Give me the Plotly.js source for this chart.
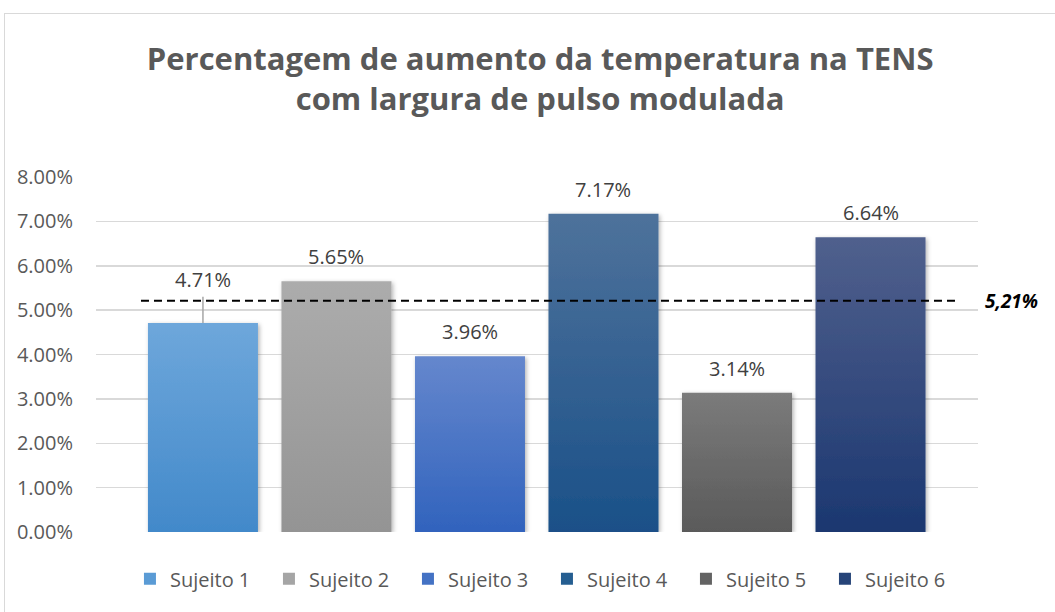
<!DOCTYPE html>
<html>
<head>
<meta charset="utf-8">
<script src="https://cdn.plot.ly/plotly-3.0.1.min.js"></script>
<style>
  html, body { margin: 0; padding: 0; background: #ffffff; }
  #wrap { position: relative; width: 1055px; height: 612px; }
  #chart { width: 1055px; height: 612px; }
  #frame {
    position: absolute; left: 4px; top: 13px; right: 0; bottom: 0;
    border-top: 1.5px solid #d9d9d9; border-left: 1.5px solid #d9d9d9;
    pointer-events: none;
  }
</style>
</head>
<body>
<div id="wrap">
  <div id="chart"></div>
  <div id="frame"></div>
</div>
<script>
// Temperature increase (%) per subject
const subjects = ["Sujeito 1", "Sujeito 2", "Sujeito 3", "Sujeito 4", "Sujeito 5", "Sujeito 6"];
const increase = [4.71, 5.65, 3.96, 7.17, 3.14, 6.64];
const yTicks = [0, 1, 2, 3, 4, 5, 6, 7, 8];

// Vertical gradient per bar: [top, bottom], plus a solid swatch colour for the legend
const gradTop    = ["#6ea7db", "#acacac", "#6587cd", "#4e729b", "#7b7b7b", "#50608d"];
const gradBottom = ["#4289ca", "#949494", "#3163bd", "#1a5088", "#5a5a5a", "#1b3770"];
const swatch     = ["#5a9bd5", "#a5a5a5", "#4472c4", "#255e91", "#636363", "#264478"];

const mean = increase.reduce((a, b) => a + b, 0) / increase.length;

const plotTop = 177, plotBottom = 532;
const yMax = 8;
const pxPerUnit = (plotBottom - plotTop) / yMax;
const font = "Open Sans, sans-serif";

const traces = subjects.map((name, i) => ({
  type: "bar",
  name: name,
  x: [i],
  y: [increase[i]],
  width: 0.824,
  marker: { color: swatch[i], line: { width: 0 } },
  hoverinfo: "name+y"
}));

// Data labels; a label that would sit on the mean line is lifted above it with a leader line
const annotations = [];
const shapes = [];
const baseShift = 9, labelH = 26;
increase.forEach((v, i) => {
  const gapPx = (mean - v) * pxPerUnit;
  let shift = baseShift;
  const collides = gapPx > 0 && baseShift < gapPx + 4 && baseShift + labelH > gapPx - 4;
  if (collides) {
    shift = gapPx + 6;
    shapes.push({
      type: "line", xref: "x", yref: "y",
      x0: i, x1: i, ysizemode: "pixel", yanchor: v, y0: 0, y1: gapPx + 4,
      line: { color: "#a6a6a6", width: 1.5 }
    });
  }
  annotations.push({
    x: i, y: v, xref: "x", yref: "y",
    text: v.toFixed(2) + "%",
    showarrow: false, yanchor: "bottom", yshift: shift,
    font: { family: font, size: 20, color: "#404040" }
  });
});

// Mean line and its label
shapes.push({
  type: "line", xref: "paper", yref: "y",
  x0: 0.051, x1: 0.977, y0: mean, y1: mean,
  line: { color: "#000000", width: 2, dash: "8px,5px" }
});
annotations.push({
  xref: "paper", yref: "y", x: 1.006, y: mean,
  xanchor: "left", yanchor: "middle", showarrow: false,
  text: "<b><i>" + mean.toFixed(2).replace(".", ",") + "%</i></b>",
  font: { family: font, size: 19, color: "#000000" }
});

const layout = {
  width: 1055, height: 612,
  margin: { l: 96, r: 77, t: plotTop, b: 612 - plotBottom, pad: 0 },
  paper_bgcolor: "#ffffff", plot_bgcolor: "#ffffff",
  barmode: "overlay",
  title: {
    text: "Percentagem de aumento da temperatura na TENS<br>com largura de pulso modulada",
    font: { family: font, size: 31, color: "#595959", weight: "bold" },
    xref: "container", x: 0.512, xanchor: "center",
    yref: "container", y: 0.886, yanchor: "top"
  },
  xaxis: {
    range: [-0.801, 5.805], showticklabels: false, showgrid: false,
    zeroline: false, showline: false, fixedrange: true
  },
  yaxis: {
    range: [0, yMax], tickvals: yTicks,
    ticktext: yTicks.map(t => t.toFixed(2) + "%"),
    showgrid: true, gridcolor: "#d9d9d9", gridwidth: 1.5,
    zeroline: false, showline: false, ticks: "",
    ticklabelstandoff: 22,
    tickfont: { family: font, size: 20, color: "#595959" },
    fixedrange: true
  },
  showlegend: true,
  legend: {
    orientation: "h", xref: "paper", x: 0.0385, xanchor: "left",
    yref: "paper", y: -0.132, yanchor: "middle",
    entrywidth: 94, entrywidthmode: "pixels",
    font: { family: font, size: 20, color: "#595959" },
    traceorder: "normal"
  },
  shapes: shapes,
  annotations: annotations
};

Plotly.newPlot("chart", traces, layout, { displayModeBar: false, staticPlot: true }).then(gd => {
  // Gradient fills and a soft shadow on the bars
  const svg = gd.querySelector(".main-svg");
  const NS = "http://www.w3.org/2000/svg";
  const defs = document.createElementNS(NS, "defs");
  gradTop.forEach((top, i) => {
    const g = document.createElementNS(NS, "linearGradient");
    g.setAttribute("id", "barGrad" + i);
    g.setAttribute("x1", "0"); g.setAttribute("y1", "0");
    g.setAttribute("x2", "0"); g.setAttribute("y2", "1");
    [[0, top], [1, gradBottom[i]]].forEach(([o, c]) => {
      const s = document.createElementNS(NS, "stop");
      s.setAttribute("offset", o);
      s.setAttribute("stop-color", c);
      g.appendChild(s);
    });
    defs.appendChild(g);
  });
  const f = document.createElementNS(NS, "filter");
  f.setAttribute("id", "barShadow");
  f.setAttribute("x", "-10%"); f.setAttribute("y", "-10%");
  f.setAttribute("width", "125%"); f.setAttribute("height", "125%");
  const ds = document.createElementNS(NS, "feDropShadow");
  ds.setAttribute("dx", "1.5"); ds.setAttribute("dy", "1.5");
  ds.setAttribute("stdDeviation", "2");
  ds.setAttribute("flood-color", "#000000");
  ds.setAttribute("flood-opacity", "0.3");
  f.appendChild(ds);
  defs.appendChild(f);
  svg.insertBefore(defs, svg.firstChild);

  gd.querySelectorAll(".barlayer .trace").forEach((t, i) => {
    t.querySelectorAll("path").forEach(p => {
      p.style.fill = "url(#barGrad" + i + ")";
      p.setAttribute("filter", "url(#barShadow)");
    });
  });
});
</script>
</body>
</html>
